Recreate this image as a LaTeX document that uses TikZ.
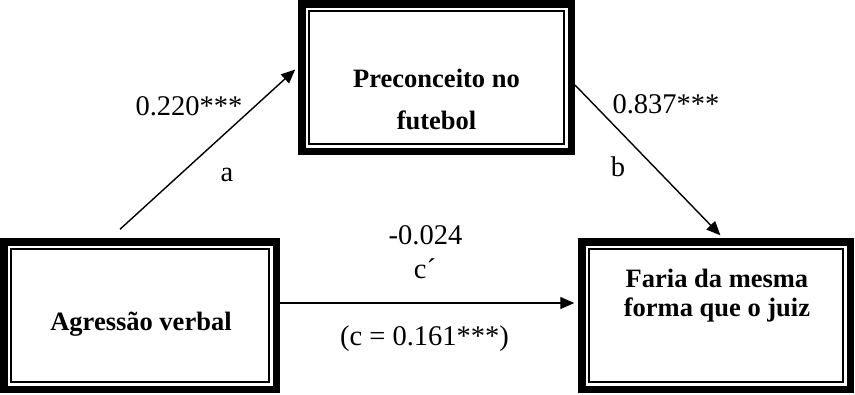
\documentclass[tikz,border=0pt]{standalone}
\usepackage{fontspec}
\setmainfont{Liberation Serif}
\usetikzlibrary{arrows.meta}

\begin{document}
\begin{tikzpicture}[x = 1pt, y = -1pt,
        frame/.style = {draw, black, line width = 7.5pt, inner sep = 0pt,
            path picture = {\draw[black, line width = 2pt]
                ([shift = {(7.2pt, -7.2pt)}]path picture bounding box.north west) rectangle
                ([shift = {(-7.2pt, 7.2pt)}]path picture bounding box.south east);}},
        boxtext/.style = {font = \fontsize{26.5}{29}\selectfont\bfseries, align = center, inner sep = 0pt},
        coef/.style = {font = \fontsize{28.5}{30}\selectfont, inner sep = 0pt},
        effect/.style = {-{Triangle[length = 14pt, width = 12pt]}, black, line width = 1.4pt, shorten >=3.75pt}]
            \useasboundingbox (0, 0) rectangle (855, 394);
            % boxes
            \node[frame, minimum width = 272.5pt, minimum height = 147.5pt] (agr) at (140, 315.5) {};
            \node[frame, minimum width = 269.5pt, minimum height = 147.5pt] (pre) at (436.5, 77.5) {};
            \node[frame, minimum width = 268.5pt, minimum height = 147.5pt] (far) at (716, 315.5) {};
            \node[boxtext] (agrtxt) at (141, 324) {Agressão verbal};
            \node[boxtext] (pretxt) at (436.5, 99.5) {Preconceito no\\[13pt]futebol};
            \node[boxtext] (fartxt) at (717, 295.5) {Faria da mesma\\forma que o juiz};
            % paths
            \draw[effect] ([xshift = -20pt, yshift = 8.75pt]agr.north) -- ([yshift = 10.5pt]pre.west);
            \draw[effect] ([yshift = -7.5pt]pre.east) -- ([xshift = 7pt]far.north);
            \draw[effect] ([yshift = 12.5pt]agr.east) -- ([yshift = 12.5pt]far.west);
            % coefficients
            \node[coef] (acoef) at (189, 106) {0.220***};
            \node[coef] (alab) at (227, 175) {a};
            \node[coef] (bcoef) at (666, 104) {0.837***};
            \node[coef] (blab) at (618, 167) {b};
            \node[coef] (ccoef) at (425.5, 235) {-0.024};
            \node[coef] (clab) at (425, 269) {c´};
            \node[coef] (ctotal) at (424.5, 338.5) {(c = 0.161***)};
        \end{tikzpicture}
\end{document}
